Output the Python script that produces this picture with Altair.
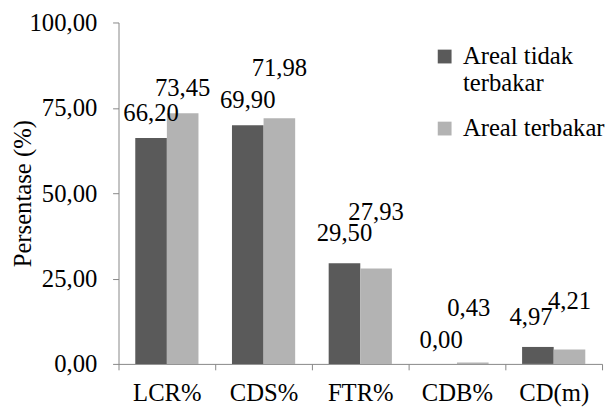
import altair as alt
import pandas as pd

categories = ["LCR%", "CDS%", "FTR%", "CDB%", "CD(m)"]
series = ["Areal tidak terbakar", "Areal terbakar"]
unburned = [66.20, 69.90, 29.50, 0.00, 4.97]
burned = [73.45, 71.98, 27.93, 0.43, 4.21]

# label placement (styling only): lift above bar top and horizontal nudge, in pixels
lift_unburned = [25, 25, 30, 24, 30]
lift_burned = [25, 51, 57, 55, 49]
nudge_unburned = [0, 0, 0, 0, -7]
nudge_burned = [0, 0, 0, -4, 0]

H = 346
rows = []
for i, c in enumerate(categories):
    rows.append(dict(cat=c, series=series[0], value=unburned[i],
                     lift=lift_unburned[i], nudge=nudge_unburned[i]))
    rows.append(dict(cat=c, series=series[1], value=burned[i],
                     lift=lift_burned[i], nudge=nudge_burned[i]))
df = pd.DataFrame(rows)

FONT = "Liberation Serif, Times New Roman, serif"
FS = 25
GRAY = "#868686"

x = alt.X(
    "cat:N", sort=categories, title=None,
    scale=alt.Scale(paddingInner=0, paddingOuter=0),
    axis=alt.Axis(tickBand="extent", labelAngle=0, labelFont=FONT, labelFontSize=FS,
                  labelColor="black", domainColor=GRAY, tickColor=GRAY, tickSize=6,
                  labelPadding=11),
)
xo = alt.XOffset("series:N", sort=series,
                 scale=alt.Scale(domain=series, paddingInner=0, paddingOuter=0.53))
yscale = alt.Scale(domain=[0, 100])
y = alt.Y(
    "value:Q", scale=yscale,
    axis=alt.Axis(values=[0, 25, 50, 75, 100], grid=False,
                  labelExpr="replace(format(datum.value, '.2f'), '.', ',')",
                  title="Persentase (%)", titleFont=FONT, titleFontSize=FS,
                  titleFontWeight="normal", titleColor="black",
                  titleX=-84, titleY=H / 2,
                  labelFont=FONT, labelFontSize=FS, labelColor="black",
                  domainColor=GRAY, tickColor=GRAY, tickSize=6, labelPadding=16),
)
color = alt.Color(
    "series:N", sort=series,
    scale=alt.Scale(domain=series, range=["#5a5a5a", "#b3b3b3"]),
    legend=alt.Legend(
        title=None, orient="none", legendX=318, legendY=22, direction="vertical",
        symbolType="square", symbolSize=196, symbolStrokeWidth=0,
        labelFont=FONT, labelFontSize=FS, labelColor="black", labelOffset=6,
        labelLimit=400, rowPadding=20,
        labelExpr="datum.label == 'Areal tidak terbakar' ? ['Areal tidak', 'terbakar'] : datum.label",
    ),
)

bars = alt.Chart(df).mark_bar().encode(x=x, xOffset=xo, y=y, color=color)

label_layers = []
for dxv in sorted(set(nudge_unburned + nudge_burned)):
    label_layers.append(
        alt.Chart(df).transform_filter(f"datum.nudge == {dxv}").transform_calculate(
            label="replace(format(datum.value, '.2f'), '.', ',')",
            ly=f"datum.value + datum.lift * 100 / {H}",
        ).mark_text(font=FONT, fontSize=FS, baseline="middle", color="black", dx=dxv).encode(
            x=x, xOffset=xo,
            y=alt.Y("ly:Q", scale=yscale),
            text="label:N",
        )
    )

chart = alt.layer(bars, *label_layers).properties(
    width=490, height=H,
    padding={"left": 3, "top": 0, "right": 0, "bottom": 0},
).configure_view(stroke=None)

chart.save("out.html", embed_options={"renderer": "svg", "actions": False})
